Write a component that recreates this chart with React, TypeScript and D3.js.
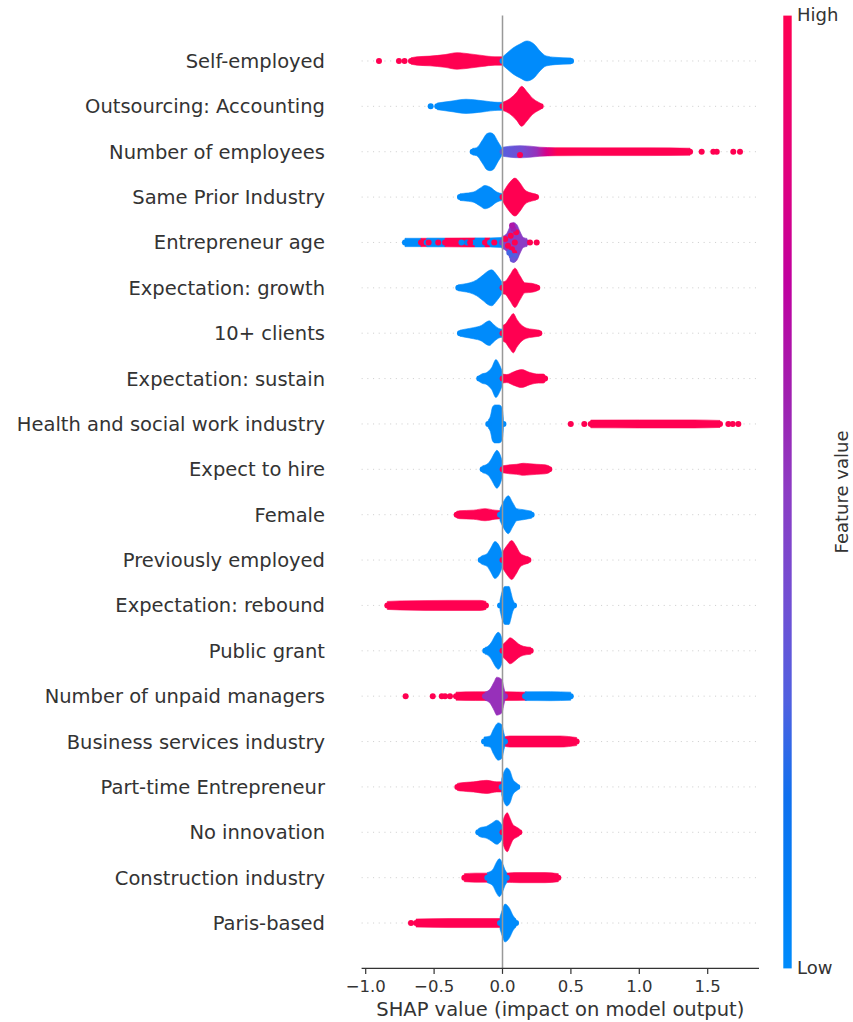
import React from "react";
import * as d3 from "d3";

// [SHAP value, relative swarm density 0..1]
type Pt = [number, number];
// A run of stacked points sharing one feature value (or a feature-value ramp along x)
type Seg = { fv: number; pts: Pt[]; ramp?: [number, number][] };
// [SHAP value, feature value, swarm lane]
type Dot = [number, number, number?];
type Row = { segs: Seg[]; dots: Dot[] };

const features = [
  "Self-employed",
  "Outsourcing: Accounting",
  "Number of employees",
  "Same Prior Industry",
  "Entrepreneur age",
  "Expectation: growth",
  "10+ clients",
  "Expectation: sustain",
  "Health and social work industry",
  "Expect to hire",
  "Female",
  "Previously employed",
  "Expectation: rebound",
  "Public grant",
  "Number of unpaid managers",
  "Business services industry",
  "Part-time Entrepreneur",
  "No innovation",
  "Construction industry",
  "Paris-based",
];

const xTicks = [-1, -0.5, 0, 0.5, 1, 1.5];

const paletteStops = [0, 0.08, 0.18, 0.28, 0.38, 0.5, 0.6, 0.72, 0.85, 1];
const paletteColors = [
  "#008bfb", "#0080f6", "#1070ee", "#5060e0", "#7050d4",
  "#8c3cc4", "#a020b0", "#c0009f", "#e4007a", "#ff0051",
];

const selfEmployed: Row = {
  segs: [
    { fv: 1, pts: [[-0.669, 0.01], [-0.625, 0.07], [-0.53, 0.11], [-0.42, 0.2], [-0.333, 0.31], [-0.238, 0.24], [-0.15, 0.15], [-0.055, 0.07], [0, 0.07]] },
    { fv: 0, pts: [[0, 0.06], [0.033, 0.29], [0.077, 0.59], [0.128, 0.82], [0.179, 1.0], [0.23, 0.82], [0.274, 0.41], [0.318, 0.12], [0.384, 0.04], [0.501, 0]] },
  ],
  dots: [[-0.903, 1], [-0.757, 1], [-0.716, 1]],
};

const outsourcingAccounting: Row = {
  segs: [
    { fv: 0, pts: [[-0.477, 0.02], [-0.384, 0.12], [-0.267, 0.24], [-0.143, 0.15], [-0.033, 0.06], [0, 0.06]] },
    { fv: 1, pts: [[0, 0.06], [0.055, 0.28], [0.104, 0.65], [0.14, 1.0], [0.177, 0.7], [0.221, 0.29], [0.26, 0.08], [0.279, 0]] },
  ],
  dots: [[-0.525, 0]],
};

const numberOfEmployees: Row = {
  segs: [
    { fv: 0, pts: [[-0.218, 0.02], [-0.189, 0.06], [-0.145, 0.53], [-0.115, 0.88], [-0.091, 0.94], [-0.069, 0.88], [-0.033, 0.41], [-0.006, 0.06]] },
    {
      fv: 0.4,
      ramp: [[0, 0.3], [0.15, 0.4], [0.25, 0.55], [0.32, 0.8], [0.4, 1]],
      pts: [[0, 0.09], [0.055, 0.15], [0.128, 0.18], [0.201, 0.15], [0.274, 0.09], [0.384, 0.06], [0.713, 0.05], [1.078, 0.05], [1.371, 0.03]],
    },
  ],
  dots: [[0.128, 1, -1], [1.456, 1], [1.541, 1], [1.566, 1], [1.687, 1], [1.736, 1]],
};

const samePriorIndustry: Row = {
  segs: [
    { fv: 0, pts: [[-0.311, 0.02], [-0.287, 0.04], [-0.213, 0.12], [-0.164, 0.35], [-0.128, 0.51], [-0.091, 0.41], [-0.042, 0.12], [-0.006, 0.03]] },
    { fv: 1, pts: [[0, 0.06], [0.018, 0.29], [0.055, 0.71], [0.091, 0.94], [0.128, 0.65], [0.164, 0.24], [0.213, 0.06], [0.245, 0]] },
  ],
  dots: [],
};

const entrepreneurAge: Row = {
  segs: [
    { fv: 0, pts: [[-0.713, 0.07], [-0.596, 0.07]] },
    { fv: 1, pts: [[-0.596, 0.07], [-0.554, 0.07]] },
    { fv: 0, pts: [[-0.554, 0.08], [-0.42, 0.08]] },
    { fv: 1, pts: [[-0.42, 0.08], [-0.201, 0.09]] },
    { fv: 0, pts: [[-0.201, 0.09], [-0.128, 0.09]] },
    { fv: 1, pts: [[-0.128, 0.09], [-0.091, 0.09]] },
    { fv: 0, pts: [[-0.091, 0.09], [0, 0.12]] },
    { fv: 0.5, pts: [[-0.004, 0.18], [0.031, 0.35], [0.055, 0.76], [0.079, 1.0], [0.104, 0.88], [0.128, 0.47], [0.152, 0.12], [0.179, 0.06]] },
  ],
  dots: [
    [-0.54, 1, 0], [-0.47, 1, 0], [-0.3, 0, 0], [-0.26, 0.1, 0], [-0.237, 1, 0], [-0.06, 1, 0],
    [0.02, 1, 1], [0.04, 1, -1], [0.06, 1, 2], [0.07, 1, -2], [0.09, 1, 0], [0.1, 1, 3], [0.085, 1, -3],
    [0.05, 0.25, -3], [0.07, 0.25, -4], [0.095, 0.3, -4], [0.075, 0.35, -5],
    [0.08, 0.6, 4], [0.07, 0.65, 5], [0.201, 1, 0], [0.25, 1, 0],
  ],
};

const expectationGrowth: Row = {
  segs: [
    { fv: 0, pts: [[-0.323, 0], [-0.289, 0.04], [-0.238, 0.12], [-0.189, 0.29], [-0.14, 0.59], [-0.104, 0.82], [-0.079, 0.88], [-0.042, 0.59], [-0.006, 0.18]] },
    { fv: 1, pts: [[0, 0.18], [0.018, 0.2], [0.055, 0.59], [0.091, 0.98], [0.128, 0.53], [0.164, 0.12], [0.213, 0.09], [0.254, 0]] },
  ],
  dots: [],
};

const tenPlusClients: Row = {
  segs: [
    { fv: 0, pts: [[-0.311, 0], [-0.274, 0.06], [-0.213, 0.15], [-0.152, 0.29], [-0.115, 0.5], [-0.096, 0.55], [-0.067, 0.35], [-0.031, 0.12], [-0.004, 0.06]] },
    { fv: 1, pts: [[0, 0.29], [0.018, 0.35], [0.055, 0.76], [0.079, 0.98], [0.104, 0.65], [0.14, 0.29], [0.177, 0.12], [0.216, 0.06], [0.269, 0]] },
  ],
  dots: [],
};

const expectationSustain: Row = {
  segs: [
    { fv: 0, pts: [[-0.17, 0], [-0.152, 0.09], [-0.115, 0.18], [-0.079, 0.47], [-0.048, 0.94], [-0.023, 0.65], [-0.004, 0.29]] },
    { fv: 1, pts: [[0.001, 0.09], [0.031, 0.06], [0.079, 0.21], [0.14, 0.35], [0.201, 0.18], [0.262, 0.09], [0.298, 0.09], [0.311, 0.03]] },
  ],
  dots: [],
};

const healthSocialWork: Row = {
  segs: [
    { fv: 0, pts: [[-0.104, 0.06], [-0.088, 0.29], [-0.073, 0.82], [-0.055, 0.94], [-0.026, 0.94], [-0.011, 0.88], [0, 0.65], [0.007, 0.06]] },
    { fv: 1, pts: [[0.645, 0.05], [1.0, 0.06], [1.4, 0.06], [1.59, 0.03]] },
  ],
  dots: [[0.499, 1], [0.598, 1], [1.651, 1], [1.683, 1], [1.724, 1]],
};

const expectToHire: Row = {
  segs: [
    { fv: 0, pts: [[-0.145, 0.03], [-0.104, 0.18], [-0.079, 0.47], [-0.055, 0.82], [-0.042, 0.94], [-0.031, 0.88], [-0.006, 0.41], [0, 0.24]] },
    { fv: 1, pts: [[0.001, 0.03], [0.055, 0.09], [0.104, 0.12], [0.152, 0.18], [0.201, 0.15], [0.25, 0.12], [0.311, 0.09], [0.342, 0.02]] },
  ],
  dots: [],
};

const female: Row = {
  segs: [
    { fv: 1, pts: [[-0.335, 0.02], [-0.311, 0.06], [-0.213, 0.09], [-0.128, 0.18], [-0.055, 0.09], [-0.006, 0.06]] },
    { fv: 0, pts: [[-0.018, 0.18], [0.011, 0.65], [0.042, 0.94], [0.075, 0.53], [0.104, 0.18], [0.152, 0.12], [0.213, 0.03]] },
  ],
  dots: [],
};

const previouslyEmployed: Row = {
  segs: [
    { fv: 0, pts: [[-0.159, 0.03], [-0.145, 0.09], [-0.115, 0.18], [-0.086, 0.53], [-0.055, 0.91], [-0.023, 0.65], [-0.004, 0.29]] },
    { fv: 1, pts: [[0, 0.29], [0.035, 0.71], [0.067, 0.97], [0.099, 0.65], [0.128, 0.24], [0.157, 0.09], [0.189, 0.02]] },
  ],
  dots: [],
};

const expectationRebound: Row = {
  segs: [
    { fv: 1, pts: [[-0.842, 0.06], [-0.749, 0.09], [-0.384, 0.12], [-0.164, 0.12], [-0.121, 0.06]] },
    { fv: 0, pts: [[-0.018, 0.12], [0, 0.71], [0.018, 0.94], [0.048, 0.94], [0.062, 0.59], [0.075, 0.18], [0.084, 0.03]] },
  ],
  dots: [],
};

const publicGrant: Row = {
  segs: [
    { fv: 0, pts: [[-0.126, 0.03], [-0.106, 0.09], [-0.079, 0.35], [-0.055, 0.71], [-0.031, 0.91], [-0.006, 0.59], [0, 0.41]] },
    { fv: 1, pts: [[0, 0.18], [0.031, 0.41], [0.055, 0.59], [0.091, 0.41], [0.115, 0.24], [0.152, 0.09], [0.206, 0.03]] },
  ],
  dots: [],
};

const unpaidManagers: Row = {
  segs: [
    { fv: 1, pts: [[-0.34, 0.06], [-0.2, 0.08], [0, 0.08], [0.177, 0.06]] },
    { fv: 0, pts: [[0.165, 0.08], [0.35, 0.09], [0.499, 0.06]] },
    { fv: 0.55, pts: [[-0.128, 0.06], [-0.091, 0.24], [-0.062, 0.65], [-0.042, 0.94], [-0.006, 0.82], [0.011, 0.29], [0.018, 0.06]] },
  ],
  dots: [[-0.708, 1], [-0.51, 1], [-0.444, 1], [-0.42, 1], [-0.384, 1]],
};

const businessServices: Row = {
  segs: [
    { fv: 1, pts: [[0.011, 0.09], [0.055, 0.15], [0.42, 0.15], [0.542, 0.06]] },
    { fv: 0, pts: [[-0.135, 0.09], [-0.091, 0.15], [-0.067, 0.53], [-0.031, 0.92], [-0.006, 0.82], [0.011, 0.29], [0.018, 0.06]] },
  ],
  dots: [],
};

const partTime: Row = {
  segs: [
    { fv: 1, pts: [[-0.33, 0.03], [-0.311, 0.06], [-0.213, 0.12], [-0.115, 0.21], [-0.042, 0.12], [0.006, 0.12]] },
    { fv: 0, pts: [[-0.006, 0.29], [0.011, 0.71], [0.031, 0.94], [0.055, 0.76], [0.075, 0.29], [0.091, 0.12], [0.108, 0.03]] },
  ],
  dots: [],
};

const noInnovation: Row = {
  segs: [
    { fv: 0, pts: [[-0.177, 0.03], [-0.164, 0.09], [-0.115, 0.18], [-0.079, 0.35], [-0.042, 0.53], [-0.018, 0.41], [0, 0.18]] },
    { fv: 1, pts: [[0, 0.41], [0.018, 0.82], [0.035, 0.97], [0.055, 0.65], [0.075, 0.29], [0.104, 0.12], [0.123, 0.03]] },
  ],
  dots: [],
};

const construction: Row = {
  segs: [
    { fv: 1, pts: [[-0.279, 0.06], [-0.2, 0.09], [-0.1, 0.09], [-0.042, 0.09]] },
    { fv: 1, pts: [[0.018, 0.09], [0.128, 0.12], [0.311, 0.12], [0.408, 0.06]] },
    { fv: 0, pts: [[-0.111, 0.12], [-0.072, 0.29], [-0.042, 0.76], [-0.023, 0.94], [0.001, 0.65], [0.018, 0.29], [0.031, 0.12]] },
  ],
  dots: [],
};

const parisBased: Row = {
  segs: [
    { fv: 1, pts: [[-0.632, 0.06], [-0.384, 0.09], [-0.091, 0.09], [-0.006, 0.09]] },
    { fv: 0, pts: [[-0.018, 0.18], [0.001, 0.65], [0.018, 0.94], [0.05, 0.71], [0.079, 0.24], [0.099, 0.06]] },
  ],
  dots: [[-0.669, 1]],
};

const rows: Row[] = [
  selfEmployed, outsourcingAccounting, numberOfEmployees, samePriorIndustry, entrepreneurAge,
  expectationGrowth, tenPlusClients, expectationSustain, healthSocialWork, expectToHire,
  female, previouslyEmployed, expectationRebound, publicGrant, unpaidManagers,
  businessServices, partTime, noInnovation, construction, parisBased,
];

const FONT = "DejaVu Sans, Verdana, sans-serif";
const INK = "#333333";

export default function App() {
  const W = 853;
  const H = 1022;

  const x = d3.scaleLinear().domain([-1.03, 1.875]).range([361.6, 759]);
  const y = d3.scaleLinear().domain([-1, features.length]).range([968.4, 15.6]);
  const dotR = 3;
  const laneGap = 3.4;
  const spread = d3.scaleLinear().domain([0, 1]).range([dotR, 20]);
  const color = d3
    .scaleLinear<string>()
    .domain(paletteStops)
    .range(paletteColors)
    .interpolate(d3.interpolateLab);

  const [xLo, xHi] = x.range();
  const [yBot, yTop] = y.range();
  const rowY = (k: number) => y(features.length - 1 - k);

  const fmt = (v: number) => d3.format(".1f")(v).replace("-", "\u2212");

  const cbX = 783.3;
  const cbW = 8.4;

  return (
    <svg
      width={W}
      height={H}
      viewBox={`0 0 ${W} ${H}`}
      style={{ position: "absolute", left: 0, top: 0, background: "#fff" }}
      fontFamily={FONT}
    >
      <defs>
        <linearGradient id="cbar" x1="0" y1="1" x2="0" y2="0">
          {paletteStops.map((s, i) => (
            <stop key={i} offset={s} stopColor={paletteColors[i]} />
          ))}
        </linearGradient>
        {rows.map((row, k) =>
          row.segs.map((seg, si) => {
            if (!seg.ramp) return null;
            const x1 = x(seg.pts[0][0]);
            const x2 = x(seg.pts[seg.pts.length - 1][0]);
            return (
              <linearGradient
                key={`g${k}-${si}`}
                id={`ramp-${k}-${si}`}
                gradientUnits="userSpaceOnUse"
                x1={x1}
                x2={x2}
                y1={0}
                y2={0}
              >
                {seg.ramp.map(([v, fv], j) => (
                  <stop key={j} offset={Math.max(0, Math.min(1, (x(v) - x1) / (x2 - x1)))} stopColor={color(fv)} />
                ))}
              </linearGradient>
            );
          })
        )}
      </defs>

      {/* dotted row guides */}
      {features.map((f, k) => (
        <line
          key={`grid-${f}`}
          x1={xLo}
          x2={xHi}
          y1={rowY(k)}
          y2={rowY(k)}
          stroke="#cccccc"
          strokeWidth={0.9}
          strokeDasharray="1.1 4.6"
        />
      ))}

      {/* feature names */}
      {features.map((f, k) => (
        <text key={`lab-${f}`} x={325} y={rowY(k) + 7} textAnchor="end" fontSize={19.5} fill={INK}>
          {f}
        </text>
      ))}

      {/* swarms */}
      {rows.map((row, k) => {
        const cy = rowY(k);
        const area = d3
          .area<Pt>()
          .x((d) => x(d[0]))
          .y0((d) => cy - spread(d[1]))
          .y1((d) => cy + spread(d[1]))
          .curve(d3.curveMonotoneX);
        return (
          <g key={`row-${k}`}>
            {row.segs.map((seg, si) => {
              const fill = seg.ramp ? `url(#ramp-${k}-${si})` : color(seg.fv);
              const first = seg.pts[0];
              const last = seg.pts[seg.pts.length - 1];
              const endFv = seg.ramp ? seg.ramp[seg.ramp.length - 1][1] : seg.fv;
              const startFv = seg.ramp ? seg.ramp[0][1] : seg.fv;
              return (
                <g key={si}>
                  <path d={area(seg.pts) || ""} fill={fill} stroke={fill} strokeWidth={0.6} />
                  <circle cx={x(first[0])} cy={cy} r={dotR} fill={color(startFv)} />
                  <circle cx={x(last[0])} cy={cy} r={dotR} fill={color(endFv)} />
                </g>
              );
            })}
            {row.dots.map(([v, fv, lane], di) => (
              <circle key={`d${di}`} cx={x(v)} cy={cy - (lane ?? 0) * laneGap} r={dotR} fill={color(fv)} />
            ))}
          </g>
        );
      })}

      {/* zero reference */}
      <line x1={x(0)} x2={x(0)} y1={yTop} y2={yBot} stroke="#999999" strokeWidth={1.5} />

      {/* x axis */}
      <line x1={xLo} x2={xHi} y1={yBot} y2={yBot} stroke={INK} strokeWidth={1.2} />
      {xTicks.map((t) => (
        <g key={`t${t}`}>
          <line x1={x(t)} x2={x(t)} y1={yBot} y2={yBot + 5.5} stroke={INK} strokeWidth={1.2} />
          <text x={x(t)} y={991.5} textAnchor="middle" fontSize={16.5} fill={INK}>
            {fmt(t)}
          </text>
        </g>
      ))}
      <text x={(xLo + xHi) / 2} y={1016} textAnchor="middle" fontSize={19.5} fill={INK}>
        SHAP value (impact on model output)
      </text>

      {/* colour bar */}
      <rect x={cbX} y={yTop} width={cbW} height={yBot - yTop} fill="url(#cbar)" />
      <text x={797} y={yTop + 5.5} fontSize={18} fill={INK}>
        High
      </text>
      <text x={797} y={yBot + 5.5} fontSize={18} fill={INK}>
        Low
      </text>
      <text
        transform={`translate(848,${(yTop + yBot) / 2}) rotate(-90)`}
        textAnchor="middle"
        fontSize={18}
        fill={INK}
      >
        Feature value
      </text>
    </svg>
  );
}
